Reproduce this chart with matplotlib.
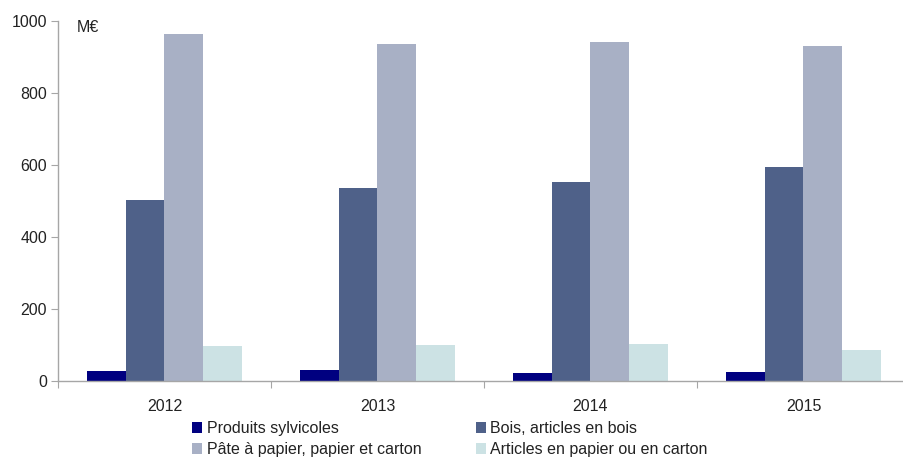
import matplotlib
matplotlib.use("Agg")
import matplotlib.pyplot as plt
import numpy as np

years = ["2012", "2013", "2014", "2015"]
series = [
    "Produits sylvicoles",
    "Bois, articles en bois",
    "Pâte à papier, papier et carton",
    "Articles en papier ou en carton",
]
produits = [28, 31, 22, 25]
bois = [503, 536, 553, 594]
pate = [964, 936, 942, 931]
articles = [97, 100, 103, 86]
colors = ["#000080", "#4f6189", "#a8b0c5", "#cce2e4"]

plt.rcParams["font.family"] = ["Liberation Sans", "DejaVu Sans"]
FS = 11.5
TXT = "#222222"

W, H = 904, 458
fig = plt.figure(figsize=(W / 100, H / 100), dpi=100)
ax = fig.add_axes([58 / W, 1 - 381 / H, (W - 58) / W, (381 - 21) / H])

x = np.arange(len(years))
bw = 0.183
bars = []
for i, vals in enumerate([produits, bois, pate, articles]):
    bars.append(ax.bar(x + (i - 1.5) * bw, vals, bw, color=colors[i],
                       label=series[i], linewidth=0))

grey = "#a6a6a6"
ax.set_ylim(0, 1000)
ax.set_xlim(-0.5, -0.5 + (W - 58) / 213)
ax.set_yticks(range(0, 1001, 200))
ax.set_xticks([-0.5, 0.5, 1.5, 2.5])
ax.set_xticklabels([])
ax.set_xticks(x, minor=True)
ax.set_xticklabels(years, minor=True)
ax.tick_params(axis="x", which="major", length=5, color=grey, direction="out")
ax.tick_params(axis="x", which="minor", length=0, pad=13, labelsize=FS,
               labelcolor=TXT)
ax.tick_params(axis="y", length=5, color=grey, labelsize=FS,
               labelcolor=TXT, pad=3)
for s in ["top", "right"]:
    ax.spines[s].set_visible(False)
for s in ["left", "bottom"]:
    ax.spines[s].set_color(grey)
    ax.spines[s].set_linewidth(1)

fig.text(77 / W, 1 - 28 / H, "M€", fontsize=FS, color=TXT,
         va="center", ha="left")

# matplotlib fills legend columns first: reorder so rows read left to right
order = [0, 2, 1, 3]
leg = fig.legend(handles=[bars[i] for i in order],
                 labels=[series[i] for i in order], ncol=2, frameon=False,
                 loc="upper left", bbox_to_anchor=(192 / W, 1 - 421 / H),
                 fontsize=FS, handlelength=0.62, handleheight=0.62,
                 handletextpad=0.3, columnspacing=3.4, labelspacing=0.38,
                 borderaxespad=0, borderpad=0)
for t in leg.get_texts():
    t.set_color(TXT)

fig.savefig("out.png", dpi=100)
